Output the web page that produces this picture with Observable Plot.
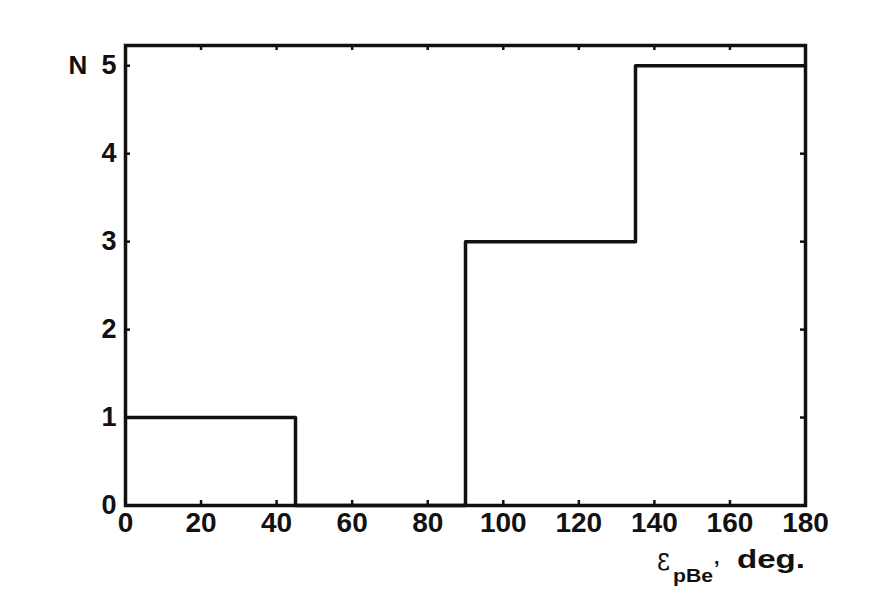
<!DOCTYPE html>
<html>
<head>
<meta charset="utf-8">
<script src="https://cdn.jsdelivr.net/npm/d3@7"></script>
<script src="https://cdn.jsdelivr.net/npm/@observablehq/plot@0.6"></script>
<style>
  html, body { margin: 0; padding: 0; background: #fff; }
  #chart { width: 872px; height: 594px; }
</style>
</head>
<body>
<div id="chart"></div>
<script>
// Histogram bin edges (deg) and counts per bin
const binEdges = [0, 45, 90, 135, 180];
const counts = [1, 0, 3, 5];
const xTicks = [0, 20, 40, 60, 80, 100, 120, 140, 160, 180];
const yTicks = [0, 1, 2, 3, 4, 5];
const yMax = 5.23;

// step outline points (step-after): last point repeats final count
const steps = binEdges.map((x, i) => ({x, n: i < counts.length ? counts[i] : counts[counts.length - 1]}));

const W = 872, H = 594;
const mL = 125, mR = 67, mT = 45, mB = 89;
const plotH = H - mT - mB, plotW = W - mL - mR;
const tickLen = 5;
const ink = "#111";
const fs = 27;

const chart = Plot.plot({
  width: W, height: H,
  marginLeft: mL, marginRight: mR, marginTop: mT, marginBottom: mB,
  x: {domain: [0, 180]},
  y: {domain: [0, yMax]},
  style: {fontFamily: "'Liberation Sans', Arial, sans-serif", fontSize: fs + "px", fontWeight: "bold", background: "#fff", color: ink},
  marks: [
    Plot.line(steps, {x: "x", y: "n", curve: "step-after", stroke: ink, strokeWidth: 3.5}),
    // inward ticks, bottom and top
    Plot.tickX(xTicks.slice(1, -1), {x: d => d, insetTop: plotH - tickLen, stroke: ink, strokeWidth: 2.5}),
    Plot.tickX(xTicks.slice(1, -1), {x: d => d, insetBottom: plotH - tickLen, stroke: ink, strokeWidth: 2.5}),
    // inward ticks, left and right
    Plot.tickY(yTicks.slice(1), {y: d => d, insetRight: plotW - tickLen, stroke: ink, strokeWidth: 2.5}),
    Plot.tickY(yTicks.slice(1), {y: d => d, insetLeft: plotW - tickLen, stroke: ink, strokeWidth: 2.5}),
    Plot.frame({stroke: ink, strokeWidth: 3.5}),
    Plot.axisX({ticks: xTicks, tickFormat: d3.format("d"), tickSize: 0, tickPadding: 7, label: null, fontSize: 28, fontWeight: "bold", fill: ink}),
    Plot.axisY({ticks: yTicks, tickFormat: d3.format("d"), tickSize: 0, tickPadding: 9, label: null, fontSize: fs, fontWeight: "bold", fill: ink}),
    Plot.text(["N"], {frameAnchor: "top-left", text: d => d, dx: -57, dy: 10, fontSize: 26, fontWeight: "bold", fill: ink})
  ]
});

document.getElementById("chart").appendChild(chart);

// x-axis label with subscript
const svg = d3.select(chart);
const lab = svg.append("text")
  .attr("fill", ink)
  .attr("text-anchor", "start")
  .style("font-family", "'Liberation Sans', Arial, sans-serif");
lab.append("tspan").text("ε").attr("x", 657).attr("y", 570)
  .attr("textLength", 13).attr("lengthAdjust", "spacingAndGlyphs")
  .style("font-family", "'DejaVu Serif', 'Liberation Serif', serif").style("font-size", "32px").style("font-weight", "normal");
lab.append("tspan").text("pBe").attr("x", 673).attr("y", 582)
  .attr("textLength", 40).attr("lengthAdjust", "spacingAndGlyphs")
  .style("font-size", "19px").style("font-weight", "bold");
lab.append("tspan").text(",").attr("x", 714).attr("y", 564)
  .style("font-size", "20px").style("font-weight", "bold");
lab.append("tspan").text("deg.").attr("x", 737).attr("y", 568)
  .attr("textLength", 68).attr("lengthAdjust", "spacingAndGlyphs")
  .style("font-size", "26px").style("font-weight", "bold");
</script>
</body>
</html>
